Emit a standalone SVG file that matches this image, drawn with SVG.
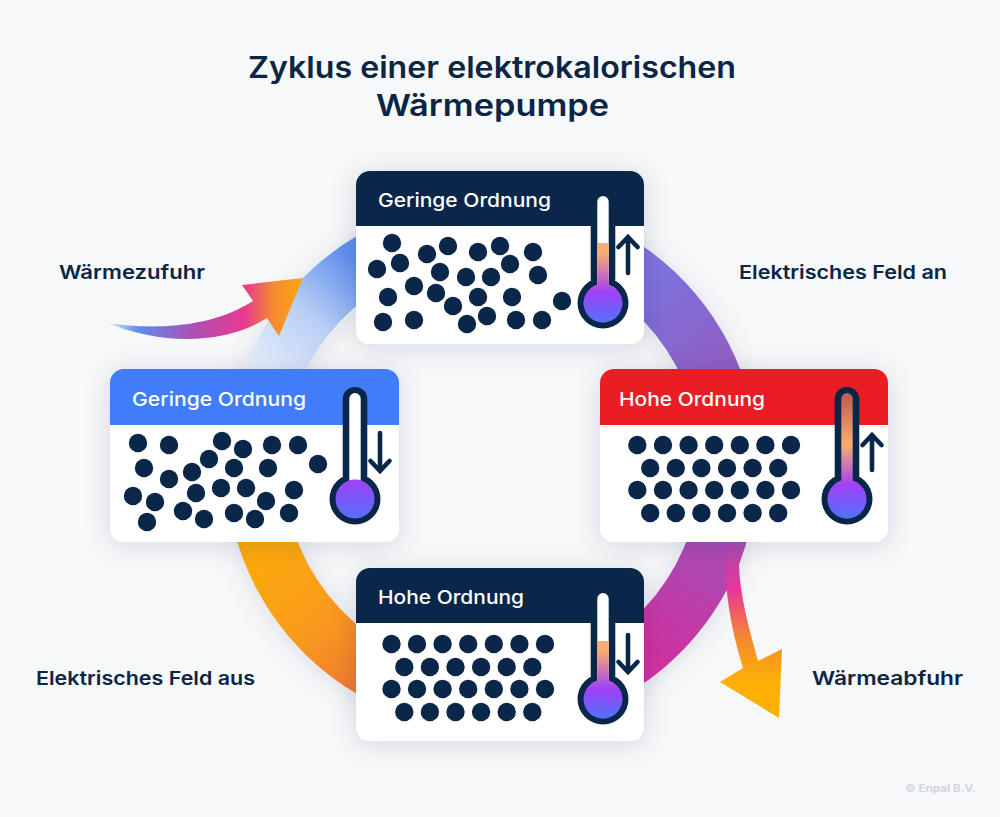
<svg xmlns="http://www.w3.org/2000/svg" width="1000" height="817" viewBox="0 0 1000 817">
<style>
text{font-family:"Inter","Noto Sans","Liberation Sans",sans-serif}
.t{fill:#0b2545;font-weight:600}
.h{fill:#fff;font-weight:500;font-size:19px}
.card{fill:#fff}
.navy{fill:#0a2648}
.blue{fill:#3f7dfb}
.red{fill:#ea1c24}
.d circle{fill:#0a2648;r:9.2px}
.th{fill:#0a2648}
.wh{fill:#fff}
.ar{fill:none;stroke:#0a2648;stroke-width:4.6px;stroke-linecap:round;stroke-linejoin:miter}
</style>
<defs>
<filter id="cs" x="-25%" y="-30%" width="150%" height="160%"><feDropShadow dx="0" dy="3" stdDeviation="13" flood-color="#1a2a44" flood-opacity="0.14"/></filter>
<filter id="rs" x="-20%" y="-20%" width="140%" height="140%"><feDropShadow dx="0" dy="3" stdDeviation="13" flood-color="#1a2a44" flood-opacity="0.11"/></filter>
<linearGradient id="g1" gradientUnits="userSpaceOnUse" x1="262" y1="372" x2="358" y2="262"><stop offset="0" stop-color="#e6edf9"/><stop offset="0.5" stop-color="#b9cff5"/><stop offset="1" stop-color="#5f8eec"/></linearGradient>
<linearGradient id="g2" gradientUnits="userSpaceOnUse" x1="645" y1="280" x2="712" y2="372"><stop offset="0" stop-color="#7b72dc"/><stop offset="1" stop-color="#9060c4"/></linearGradient>
<linearGradient id="g3" gradientUnits="userSpaceOnUse" x1="712" y1="545" x2="645" y2="655"><stop offset="0" stop-color="#a84cb4"/><stop offset="1" stop-color="#d030a0"/></linearGradient>
<linearGradient id="g4" gradientUnits="userSpaceOnUse" x1="265" y1="560" x2="358" y2="680"><stop offset="0" stop-color="#fca80e"/><stop offset="0.55" stop-color="#f99a1e"/><stop offset="1" stop-color="#f07c30"/></linearGradient>
<linearGradient id="ai" gradientUnits="userSpaceOnUse" x1="108" y1="0" x2="303" y2="0"><stop offset="0" stop-color="#e4ecfa"/><stop offset="0.15" stop-color="#5f8cf0"/><stop offset="0.45" stop-color="#b04eb0"/><stop offset="0.7" stop-color="#e83a90"/><stop offset="0.85" stop-color="#f58a30"/><stop offset="1" stop-color="#fca80e"/></linearGradient>
<linearGradient id="ao" gradientUnits="userSpaceOnUse" x1="0" y1="543" x2="0" y2="680"><stop offset="0" stop-color="#a84cb4"/><stop offset="0.33" stop-color="#e8359a"/><stop offset="0.7" stop-color="#f58a30"/><stop offset="1" stop-color="#fdaf05"/></linearGradient>
<linearGradient id="f1" x1="0" y1="243" x2="0" y2="329" gradientUnits="userSpaceOnUse"><stop offset="0" stop-color="#f9ad6e"/><stop offset="0.12" stop-color="#f9ad6e"/><stop offset="0.57" stop-color="#a040f8"/><stop offset="1" stop-color="#3f7dfb"/></linearGradient>
<linearGradient id="f2" x1="0" y1="479" x2="0" y2="525" gradientUnits="userSpaceOnUse"><stop offset="0" stop-color="#a040f8"/><stop offset="1" stop-color="#4a78fb"/></linearGradient>
<linearGradient id="f3" x1="0" y1="392" x2="0" y2="525" gradientUnits="userSpaceOnUse"><stop offset="0" stop-color="#bb5a4e"/><stop offset="0.4" stop-color="#f9ad6e"/><stop offset="0.7" stop-color="#a040f8"/><stop offset="1" stop-color="#3f7dfb"/></linearGradient>
<linearGradient id="f4" x1="0" y1="641" x2="0" y2="725" gradientUnits="userSpaceOnUse"><stop offset="0" stop-color="#f9ad6e"/><stop offset="0.12" stop-color="#f9ad6e"/><stop offset="0.57" stop-color="#a040f8"/><stop offset="1" stop-color="#3f7dfb"/></linearGradient>
</defs>
<rect width="1000" height="817" fill="#f6f8fa"/>
<g id="title">
<text class="t" x="248" y="78" font-size="30" textLength="488" lengthAdjust="spacingAndGlyphs">Zyklus einer elektrokalorischen</text>
<text class="t" x="376" y="116" font-size="30" textLength="233" lengthAdjust="spacingAndGlyphs">Wärmepumpe</text>
</g>
<g id="connectors">
<g filter="url(#rs)">
<path id="ring-top-left" fill="url(#g1)" d="M234,400A266,266 0 0 1 384,222L384,286A209,209 0 0 0 293.4,400Z"/>
<path id="ring-top-right" fill="url(#g2)" d="M600,222A266,266 0 0 1 750,400L690.6,400A209,209 0 0 0 600,286Z"/>
<path id="ring-bottom-right" fill="url(#g3)" d="M750,530A266,266 0 0 1 600,708L600,644A209,209 0 0 0 690.6,530Z"/>
<path id="ring-bottom-left" fill="url(#g4)" d="M234,530L293.4,530A209,209 0 0 0 384,644L384,708A266,266 0 0 1 234,530Z"/>
</g>
<path id="arrow-in" fill="url(#ai)" d="M108,323C140,328 205,332 253,301L242,285L303,278L279,336L267,318C225,345 160,345 108,323Z"/>
<path id="arrow-out" fill="url(#ao)" d="M725,535L748,535L739,565C740,595 748,625 758,661L782,649L779,718L720,682L743,668C728,620 723,575 725,535Z"/>
</g>
<g id="node-top" >
<rect class="card" x="356" y="171" width="288" height="173" rx="14" filter="url(#cs)"/>
<path class="navy" d="M356,226V185a14,14 0 0 1 14,-14H630a14,14 0 0 1 14,14V226Z"/>
<text class="h" x="378" y="207" textLength="173" lengthAdjust="spacingAndGlyphs">Geringe Ordnung</text>
<g class="d"><circle cx="392" cy="243"/><circle cx="427" cy="254"/><circle cx="448" cy="246"/><circle cx="478" cy="252"/><circle cx="500" cy="246"/><circle cx="533" cy="252"/><circle cx="377" cy="269"/><circle cx="400" cy="263"/><circle cx="440" cy="272"/><circle cx="466" cy="277"/><circle cx="491" cy="277"/><circle cx="510" cy="264"/><circle cx="538" cy="275"/><circle cx="414" cy="286"/><circle cx="436" cy="293"/><circle cx="388" cy="297"/><circle cx="478" cy="297"/><circle cx="512" cy="297"/><circle cx="453" cy="306"/><circle cx="562" cy="301"/><circle cx="383" cy="322"/><circle cx="414" cy="320"/><circle cx="467" cy="324"/><circle cx="487" cy="316"/><circle cx="516" cy="320"/><circle cx="542" cy="320"/></g>
<rect class="th" x="590.700" y="190" width="24.600" height="100" rx="12"/><circle class="th" cx="603" cy="303" r="25.500"/>
<rect class="wh" x="597.300" y="196" width="11.400" height="100" rx="5.700"/>
<path fill="url(#f1)" d="M597.300,243H608.700V284.500A19.500,19.500 0 1 1 597.300,284.500Z"/>
<path class="ar" d="M628,273V237M618.500,247L628,237L637.500,247"/>
</g>
<g id="node-left">
<rect class="card" x="110" y="369" width="289" height="173" rx="14" filter="url(#cs)"/>
<path class="blue" d="M110,425V383a14,14 0 0 1 14,-14H385a14,14 0 0 1 14,14V425Z"/>
<text class="h" x="132" y="406" textLength="174" lengthAdjust="spacingAndGlyphs">Geringe Ordnung</text>
<g class="d"><circle cx="138" cy="443"/><circle cx="169" cy="445"/><circle cx="222" cy="441"/><circle cx="243" cy="449"/><circle cx="272" cy="445"/><circle cx="298" cy="445"/><circle cx="209" cy="459"/><circle cx="144" cy="468"/><circle cx="192" cy="472"/><circle cx="234" cy="468"/><circle cx="268" cy="468"/><circle cx="318" cy="464"/><circle cx="169" cy="479"/><circle cx="133" cy="496"/><circle cx="155" cy="502"/><circle cx="196" cy="493"/><circle cx="221" cy="488"/><circle cx="246" cy="488"/><circle cx="294" cy="490"/><circle cx="266" cy="501"/><circle cx="183" cy="511"/><circle cx="204" cy="519"/><circle cx="234" cy="513"/><circle cx="255" cy="519"/><circle cx="289" cy="513"/><circle cx="147" cy="522"/></g>
<rect class="th" x="342.700" y="387" width="24.600" height="100" rx="12"/><circle class="th" cx="355" cy="499" r="25.500"/>
<rect class="wh" x="349.300" y="393" width="11.400" height="100" rx="5.700"/>
<circle fill="url(#f2)" cx="355" cy="499" r="19.500"/>
<path class="ar" d="M380,433V471M370.500,461L380,471L389.500,461"/>
</g>
<g id="node-right">
<rect class="card" x="600" y="369" width="288" height="173" rx="14" filter="url(#cs)"/>
<path class="red" d="M600,425V383a14,14 0 0 1 14,-14H874a14,14 0 0 1 14,14V425Z"/>
<text class="h" x="619" y="406" textLength="146" lengthAdjust="spacingAndGlyphs">Hohe Ordnung</text>
<g class="d"><circle cx="637.300" cy="445"/><circle cx="663" cy="445"/><circle cx="688.600" cy="445"/><circle cx="714.200" cy="445"/><circle cx="739.800" cy="445"/><circle cx="765.400" cy="445"/><circle cx="791" cy="445"/><circle cx="650.200" cy="468"/><circle cx="675.800" cy="468"/><circle cx="701.400" cy="468"/><circle cx="727" cy="468"/><circle cx="752.600" cy="468"/><circle cx="778.200" cy="468"/><circle cx="637.300" cy="490"/><circle cx="663" cy="490"/><circle cx="688.600" cy="490"/><circle cx="714.200" cy="490"/><circle cx="739.800" cy="490"/><circle cx="765.400" cy="490"/><circle cx="791" cy="490"/><circle cx="650.200" cy="513"/><circle cx="675.800" cy="513"/><circle cx="701.400" cy="513"/><circle cx="727" cy="513"/><circle cx="752.600" cy="513"/><circle cx="778.200" cy="513"/></g>
<rect class="th" x="834.700" y="387" width="24.600" height="100" rx="12"/><circle class="th" cx="847" cy="499" r="25.500"/>
<path fill="url(#f3)" d="M841.300,480.500V398.700A5.700,5.700 0 0 1 852.700,398.700V480.500A19.500,19.500 0 1 1 841.300,480.500Z"/>
<path class="ar" d="M872,470V435M862.500,445L872,435L881.500,445"/>
</g>
<g id="node-bottom">
<rect class="card" x="356" y="568" width="288" height="173" rx="14" filter="url(#cs)"/>
<path class="navy" d="M356,623V582a14,14 0 0 1 14,-14H630a14,14 0 0 1 14,14V623Z"/>
<text class="h" x="378" y="604" textLength="146" lengthAdjust="spacingAndGlyphs">Hohe Ordnung</text>
<g class="d"><circle cx="391.500" cy="644"/><circle cx="417" cy="644"/><circle cx="442.600" cy="644"/><circle cx="468.200" cy="644"/><circle cx="493.800" cy="644"/><circle cx="519.400" cy="644"/><circle cx="545" cy="644"/><circle cx="404.300" cy="667"/><circle cx="429.900" cy="667"/><circle cx="455.500" cy="667"/><circle cx="481.100" cy="667"/><circle cx="506.700" cy="667"/><circle cx="532.300" cy="667"/><circle cx="391.500" cy="689"/><circle cx="417" cy="689"/><circle cx="442.600" cy="689"/><circle cx="468.200" cy="689"/><circle cx="493.800" cy="689"/><circle cx="519.400" cy="689"/><circle cx="545" cy="689"/><circle cx="404.300" cy="712"/><circle cx="429.900" cy="712"/><circle cx="455.500" cy="712"/><circle cx="481.100" cy="712"/><circle cx="506.700" cy="712"/><circle cx="532.300" cy="712"/></g>
<rect class="th" x="590.700" y="587" width="24.600" height="100" rx="12"/><circle class="th" cx="603" cy="699" r="25.500"/>
<rect class="wh" x="597.300" y="593" width="11.400" height="100" rx="5.700"/>
<path fill="url(#f4)" d="M597.300,641H608.700V680.500A19.500,19.500 0 1 1 597.300,680.500Z"/>
<path class="ar" d="M628,635V672M618.500,662L628,672L637.500,662"/>
</g>
<g id="labels">
<text class="t" x="59" y="279" font-size="19" textLength="146" lengthAdjust="spacingAndGlyphs">Wärmezufuhr</text>
<text class="t" x="739" y="279" font-size="19" textLength="208" lengthAdjust="spacingAndGlyphs">Elektrisches Feld an</text>
<text class="t" x="36" y="685" font-size="19" textLength="219" lengthAdjust="spacingAndGlyphs">Elektrisches Feld aus</text>
<text class="t" x="812" y="685" font-size="19" textLength="151" lengthAdjust="spacingAndGlyphs">Wärmeabfuhr</text>
<text x="905" y="792" font-size="11" font-weight="700" fill="#d3d7dd" textLength="71" lengthAdjust="spacingAndGlyphs">© Enpal B.V.</text>
</g>
</svg>
